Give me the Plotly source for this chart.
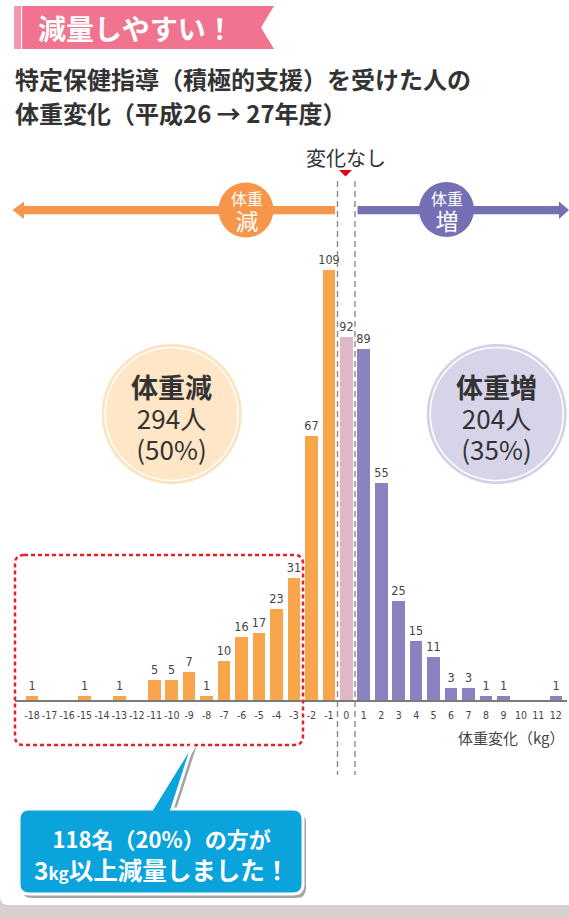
import plotly.graph_objects as go

# ---------------- data ----------------
kg = [-18, -17, -16, -15, -14, -13, -12, -11, -10, -9, -8, -7, -6, -5, -4, -3,
      -2, -1, 0, 1, 2, 3, 4, 5, 6, 7, 8, 9, 10, 11, 12]
counts = [1, 0, 0, 1, 0, 1, 0, 5, 5, 7, 1, 10, 16, 17, 23, 31,
          67, 109, 92, 89, 55, 25, 15, 11, 3, 3, 1, 1, 0, 0, 1]
tick_labels = ["-18", "-17", "-16", "-15", "-14", "-13", "-12", "-11", "-10", "-9",
               "-8", "-7", "-6", "-5", "-4", "-3", "-2", "-1", "0", "1", "2", "3",
               "4", "5", "6", "7", "8", "9", "10", "11", "12"]
loss_total, loss_pct = 294, 50
gain_total, gain_pct = 204, 35

# ---------------- styles ----------------
ORANGE = "#F9A54B"
PINK = "#E0B7C8"
PURPLE = "#8A82BE"
ARROW_OR = "#F7964A"
ARROW_PU = "#7470B3"
JP = "Noto Sans CJK JP, Noto Sans, sans-serif"
NARROW = "DejaVu Sans Condensed, Liberation Sans Narrow, Roboto, sans-serif"
TXT = "#333333"
LP, RP = "\uff08", "\uff09"   # full-width parentheses

W, H = 569, 918
L, R, T, B = 15, 2, 0, 218


def X(px):
    return (px - L) / (W - L - R)


def Y(py):
    return (H - B - py) / (H - T - B)


def P(px, py):
    return f"{X(px):.5f},{Y(py):.5f}"


colors = [ORANGE if v < 0 else (PINK if v == 0 else PURPLE) for v in kg]
labels = [str(c) if c > 0 else "" for c in counts]

fig = go.Figure()
fig.add_trace(go.Bar(
    x=kg, y=counts, width=0.72, marker=dict(color=colors, line=dict(width=0)),
    text=labels, textposition="outside", cliponaxis=False, constraintext="none",
    textfont=dict(family=NARROW, size=12.5, color="#444"),
    hoverinfo="skip",
))

shapes = []
annotations = []


def rrect_path(x0, y0, x1, y1, r):
    return (f"M {P(x0 + r, y0)} L {P(x1 - r, y0)} Q {P(x1, y0)} {P(x1, y0 + r)} "
            f"L {P(x1, y1 - r)} Q {P(x1, y1)} {P(x1 - r, y1)} L {P(x0 + r, y1)} "
            f"Q {P(x0, y1)} {P(x0, y1 - r)} L {P(x0, y0 + r)} Q {P(x0, y0)} {P(x0 + r, y0)} Z")


def circle(cx, cy, r, **kw):
    d = dict(type="circle", xref="paper", yref="paper",
             x0=X(cx - r), x1=X(cx + r), y0=Y(cy + r), y1=Y(cy - r))
    d.update(kw)
    return d


# bottom gray band and card corner
shapes.append(dict(type="rect", xref="paper", yref="paper", x0=X(0), x1=X(569),
                   y0=Y(918), y1=Y(894), fillcolor="#D8D0CC", line=dict(width=0), layer="below"))
shapes.append(dict(type="path", xref="paper", yref="paper",
                   path=f"M {P(0, 880)} L {P(569, 880)} L {P(569, 905)} L {P(9, 905)} "
                        f"Q {P(0, 905)} {P(0, 896)} Z",
                   fillcolor="white", line=dict(width=0), layer="below"))

# banner
shapes.append(dict(type="path", xref="paper", yref="paper",
                   path=f"M {P(14, 6)} L {P(274, 6)} L {P(261, 27.5)} L {P(274, 49)} L {P(14, 49)} Z",
                   fillcolor="#F07490", line=dict(width=0)))
shapes.append(dict(type="rect", xref="paper", yref="paper", x0=X(14), x1=X(20.5),
                   y0=Y(49), y1=Y(6), fillcolor="#F597AB", line=dict(width=0)))
shapes.append(dict(type="line", xref="paper", yref="paper", x0=X(21.5), x1=X(21.5),
                   y0=Y(49), y1=Y(6), line=dict(color="white", width=1.2)))

# top arrows
shapes.append(dict(type="rect", xref="paper", yref="paper", x0=X(22), x1=X(335),
                   y0=Y(214.3), y1=Y(206), fillcolor=ARROW_OR, line=dict(width=0)))
shapes.append(dict(type="path", xref="paper", yref="paper",
                   path=f"M {P(12.5, 210)} L {P(24, 201.5)} L {P(24, 219)} Z",
                   fillcolor=ARROW_OR, line=dict(width=0)))
shapes.append(dict(type="rect", xref="paper", yref="paper", x0=X(357.5), x1=X(561),
                   y0=Y(214.3), y1=Y(206), fillcolor=ARROW_PU, line=dict(width=0)))
shapes.append(dict(type="path", xref="paper", yref="paper",
                   path=f"M {P(569, 210)} L {P(559, 201.5)} L {P(559, 219)} Z",
                   fillcolor=ARROW_PU, line=dict(width=0)))
shapes.append(circle(246, 210, 27.5, fillcolor=ARROW_OR, line=dict(width=0)))
shapes.append(circle(446.5, 209.5, 27.5, fillcolor=ARROW_PU, line=dict(width=0)))

# no-change marker
shapes.append(dict(type="path", xref="paper", yref="paper",
                   path=f"M {P(339, 170)} L {P(352, 170)} L {P(345.5, 176.5)} Z",
                   fillcolor="#E60012", line=dict(width=0)))
for xx in (337.5, 355):
    shapes.append(dict(type="line", xref="paper", yref="paper", x0=X(xx), x1=X(xx),
                       y0=Y(181), y1=Y(775), line=dict(color="#8A8A8A", width=1.4, dash="6px,4px")))

# big circles
shapes.append(circle(171.7, 414, 70, fillcolor="#FDE2BC", line=dict(width=0)))
shapes.append(circle(171.7, 414, 66.5, fillcolor="#FEE6C6", line=dict(color="white", width=1.6)))
shapes.append(circle(496.7, 414, 70, fillcolor="#D3D0E8", line=dict(width=0)))
shapes.append(circle(496.7, 414, 66.5, fillcolor="#D7D4EA", line=dict(color="white", width=1.6)))

# red dashed box
shapes.append(dict(type="path", xref="paper", yref="paper",
                   path=rrect_path(15, 555, 303, 745, 9),
                   fillcolor="rgba(0,0,0,0)", line=dict(color="#E8202A", width=2.5, dash="4px,3px")))

# callout


def callout_path(dx, dy):
    tip = (194 + dx, 741 + dy)
    x0, y0, x1, y1, r = 19 + dx, 809 + dy, 303 + dx, 894 + dy, 10
    return (f"M {P(*tip)} L {P(172 + dx, y0)} L {P(x1 - r, y0)} Q {P(x1, y0)} {P(x1, y0 + r)} "
            f"L {P(x1, y1 - r)} Q {P(x1, y1)} {P(x1 - r, y1)} L {P(x0 + r, y1)} "
            f"Q {P(x0, y1)} {P(x0, y1 - r)} L {P(x0, y0 + r)} Q {P(x0, y0)} {P(x0 + r, y0)} "
            f"L {P(152 + dx, y0)} Z")


shapes.append(dict(type="path", xref="paper", yref="paper", path=callout_path(3, 4),
                   fillcolor="rgba(50,50,50,0.45)", line=dict(width=0)))
shapes.append(dict(type="path", xref="paper", yref="paper", path=callout_path(0, 0),
                   fillcolor="#0AA3DC", line=dict(color="white", width=3)))


def ann(px, py, text, size, color=TXT, anchor="center", family=JP):
    annotations.append(dict(xref="paper", yref="paper", x=X(px), y=Y(py), text=text,
                            showarrow=False, xanchor=anchor, yanchor="middle",
                            font=dict(family=family, size=size, color=color)))


def sp(text, size):
    return f"<span style='font-size:{size}px'>{text}</span>"


ann(36, 28, "<b>減量しやすい\uff01</b>", 28, "white", "left")
ann(13, 78, f"<b>特定保健指導{LP}積極的支援{RP}を受けた人の</b>", 24, TXT, "left")
ann(13, 112, f"<b>体重変化{LP}平成26 → 27年度{RP}</b>", 24, TXT, "left")
ann(346, 157, "変化なし", 20, TXT)
ann(246.5, 212, sp("体重", 16) + "<br>" + sp("減", 23), 19.5, "white")
ann(446.5, 212, sp("体重", 16) + "<br>" + sp("増", 23), 19.5, "white")
ann(171.7, 417, sp("<b>体重減</b>", 27) + "<br>" + sp(f"{loss_total}人", 26) + "<br>"
    + sp(f"({loss_pct}%)", 26), 24, TXT)
ann(496.7, 417, sp("<b>体重増</b>", 27) + "<br>" + sp(f"{gain_total}人", 26) + "<br>"
    + sp(f"({gain_pct}%)", 26), 24, TXT)
ann(567, 737, f"体重変化{LP}kg{RP}", 15, "#444", "right")
ann(161, 854, sp(f"<b>118名{LP}20%{RP}の方が</b>", 22) + "<br>"
    + "<b>3" + sp("kg", 17) + "以上減量しました\uff01</b>", 24.5, "white")

fig.update_layout(
    width=W, height=H, margin=dict(l=L, r=R, t=T, b=B),
    paper_bgcolor="white", plot_bgcolor="white",
    showlegend=False, shapes=shapes, annotations=annotations,
    bargap=0, hovermode=False,
    xaxis=dict(range=[-18.975, 12.64], tickvals=kg, ticktext=tick_labels, tickangle=0,
               tickfont=dict(family=NARROW, size=10.5, color="#444"), ticklabelstandoff=4,
               showline=True, linecolor="#7A7A7A", linewidth=2, ticks="",
               showgrid=False, zeroline=False, fixedrange=True),
    yaxis=dict(range=[0, 177.44], visible=False, fixedrange=True),
)

fig.write_html("out.html", config={"displayModeBar": False},
               post_script="document.body.style.margin='0px';document.body.style.overflow='hidden';")
